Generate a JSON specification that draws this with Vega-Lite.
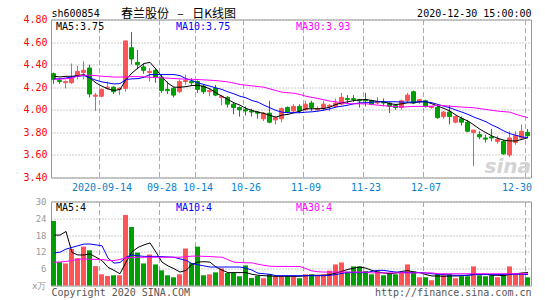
{
 "$schema": "https://vega.github.io/schema/vega-lite/v6.json",
 "background": "white",
 "padding": {"left": 22, "top": 6.5, "right": 8, "bottom": 0},
 "bounds": "flush",
 "spacing": 24,
 "config": {
  "view": {"stroke": "#999999", "strokeWidth": 1},
  "font": "DejaVu Sans Mono",
  "axis": {"labelOverlap": false},
  "axisY": {"labelOverlap": false},
  "axisQuantitative": {"labelOverlap": false}
 },
 "datasets": {
  "k": [
   {"d":"2020-09-02","o":4.32,"h":4.33,"l":4.23,"c":4.27,"v":23.05,"m5":4.297,"m10":4.274,"m30":4.27,"vm5":18,"vm10":11.6,"vm30":8.35},
   {"d":"2020-09-03","o":4.26,"h":4.28,"l":4.23,"c":4.25,"v":8.35,"m5":4.291,"m10":4.274,"m30":4.272,"vm5":18,"vm10":11.9,"vm30":8.4},
   {"d":"2020-09-04","o":4.24,"h":4.26,"l":4.19,"c":4.25,"v":7.88,"m5":4.297,"m10":4.282,"m30":4.275,"vm5":19.3,"vm10":13,"vm30":8.6},
   {"d":"2020-09-07","o":4.24,"h":4.41,"l":4.23,"c":4.28,"v":13.05,"m5":4.297,"m10":4.291,"m30":4.28,"vm5":11.8,"vm10":13.6,"vm30":8.9},
   {"d":"2020-09-08","o":4.30,"h":4.39,"l":4.27,"c":4.34,"v":9.76,"m5":4.303,"m10":4.297,"m30":4.30,"vm5":10.9,"vm10":14.2,"vm30":9.3},
   {"d":"2020-09-09","o":4.33,"h":4.43,"l":4.27,"c":4.35,"v":13.88,"m5":4.312,"m10":4.303,"m30":4.306,"vm5":10.9,"vm10":14.8,"vm30":9.5},
   {"d":"2020-09-10","o":4.37,"h":4.40,"l":4.11,"c":4.14,"v":12.58,"m5":4.282,"m10":4.282,"m30":4.306,"vm5":11.3,"vm10":14.8,"vm30":9.4},
   {"d":"2020-09-11","o":4.12,"h":4.15,"l":3.99,"c":4.13,"v":6.94,"m5":4.238,"m10":4.262,"m30":4.303,"vm5":10.1,"vm10":14.5,"vm30":9.3},
   {"d":"2020-09-14","o":4.12,"h":4.19,"l":4.11,"c":4.18,"v":4.0,"m5":4.209,"m10":4.247,"m30":4.297,"vm5":8.9,"vm10":14.2,"vm30":9.3},
   {"d":"2020-09-15","o":4.19,"h":4.25,"l":4.18,"c":4.20,"v":3.41,"m5":4.185,"m10":4.238,"m30":4.294,"vm5":6.5,"vm10":9.8,"vm30":9.0},
   {"d":"2020-09-16","o":4.20,"h":4.21,"l":4.14,"c":4.16,"v":3.65,"m5":4.171,"m10":4.229,"m30":4.29,"vm5":5.4,"vm10":8.0,"vm30":8.9},
   {"d":"2020-09-17","o":4.18,"h":4.20,"l":4.13,"c":4.19,"v":3.65,"m5":4.18,"m10":4.232,"m30":4.29,"vm5":4.2,"vm10":8.2,"vm30":9.3},
   {"d":"2020-09-18","o":4.19,"h":4.61,"l":4.16,"c":4.61,"v":25.2,"m5":4.268,"m10":4.268,"m30":4.291,"vm5":8.3,"vm10":10.1,"vm30":9.9},
   {"d":"2020-09-21","o":4.55,"h":4.69,"l":4.40,"c":4.45,"v":20.9,"m5":4.326,"m10":4.274,"m30":4.294,"vm5":12,"vm10":10.9,"vm30":10.0},
   {"d":"2020-09-22","o":4.42,"h":4.53,"l":4.36,"c":4.40,"v":11.76,"m5":4.37,"m10":4.276,"m30":4.294,"vm5":13.6,"vm10":10.6,"vm30":10.1},
   {"d":"2020-09-23","o":4.38,"h":4.41,"l":4.32,"c":4.35,"v":7.88,"m5":4.41,"m10":4.288,"m30":4.292,"vm5":14.5,"vm10":10.4,"vm30":10.1},
   {"d":"2020-09-24","o":4.33,"h":4.37,"l":4.25,"c":4.34,"v":11.05,"m5":4.42,"m10":4.312,"m30":4.288,"vm5":15.2,"vm10":10.4,"vm30":10.1},
   {"d":"2020-09-25","o":4.35,"h":4.37,"l":4.24,"c":4.29,"v":7.53,"m5":4.36,"m10":4.312,"m30":4.286,"vm5":11.9,"vm10":10.4,"vm30":10.1},
   {"d":"2020-09-28","o":4.29,"h":4.31,"l":4.15,"c":4.17,"v":5.41,"m5":4.29,"m10":4.312,"m30":4.283,"vm5":8.35,"vm10":10.3,"vm30":10.1},
   {"d":"2020-09-29","o":4.18,"h":4.25,"l":4.14,"c":4.17,"v":3.65,"m5":4.235,"m10":4.312,"m30":4.28,"vm5":7,"vm10":10.2,"vm30":10.1},
   {"d":"2020-09-30","o":4.19,"h":4.20,"l":4.11,"c":4.13,"v":2.94,"m5":4.20,"m10":4.312,"m30":4.277,"vm5":6,"vm10":10.1,"vm30":10.1},
   {"d":"2020-10-09","o":4.16,"h":4.27,"l":4.15,"c":4.25,"v":4.0,"m5":4.20,"m10":4.303,"m30":4.274,"vm5":4.8,"vm10":9.5,"vm30":10.1},
   {"d":"2020-10-12","o":4.25,"h":4.31,"l":4.22,"c":4.26,"v":13.2,"m5":4.205,"m10":4.276,"m30":4.271,"vm5":5.4,"vm10":9.0,"vm30":10.3},
   {"d":"2020-10-13","o":4.25,"h":4.28,"l":4.22,"c":4.24,"v":8.0,"m5":4.215,"m10":4.259,"m30":4.27,"vm5":7.5,"vm10":7.8,"vm30":10.5},
   {"d":"2020-10-14","o":4.25,"h":4.26,"l":4.15,"c":4.18,"v":13.88,"m5":4.218,"m10":4.238,"m30":4.268,"vm5":8.35,"vm10":7.4,"vm30":10.5},
   {"d":"2020-10-15","o":4.21,"h":4.22,"l":4.14,"c":4.16,"v":3.65,"m5":4.205,"m10":4.224,"m30":4.265,"vm5":8.5,"vm10":7.0,"vm30":10.4},
   {"d":"2020-10-16","o":4.16,"h":4.19,"l":4.12,"c":4.17,"v":4.0,"m5":4.185,"m10":4.209,"m30":4.262,"vm5":8.35,"vm10":6.6,"vm30":10.35},
   {"d":"2020-10-19","o":4.19,"h":4.22,"l":4.12,"c":4.13,"v":4.7,"m5":4.15,"m10":4.194,"m30":4.259,"vm5":6.6,"vm10":6.6,"vm30":10.2},
   {"d":"2020-10-20","o":4.11,"h":4.13,"l":4.04,"c":4.12,"v":6.1,"m5":4.12,"m10":4.18,"m30":4.253,"vm5":5.5,"vm10":6.6,"vm30":10.1},
   {"d":"2020-10-21","o":4.11,"h":4.12,"l":4.02,"c":4.05,"v":4.47,"m5":4.091,"m10":4.159,"m30":4.247,"vm5":4.6,"vm10":6.6,"vm30":9.2},
   {"d":"2020-10-22","o":4.05,"h":4.06,"l":3.96,"c":4.02,"v":4.47,"m5":4.062,"m10":4.141,"m30":4.236,"vm5":4.6,"vm10":6.6,"vm30":8.35},
   {"d":"2020-10-23","o":4.02,"h":4.03,"l":3.94,"c":4.00,"v":3.3,"m5":4.041,"m10":4.12,"m30":4.224,"vm5":4.6,"vm10":6.6,"vm30":8.2},
   {"d":"2020-10-26","o":4.00,"h":4.03,"l":3.95,"c":3.99,"v":7.17,"m5":4.012,"m10":4.106,"m30":4.218,"vm5":4.6,"vm10":6.2,"vm30":8.1},
   {"d":"2020-10-27","o":3.99,"h":4.01,"l":3.94,"c":3.98,"v":2.7,"m5":3.994,"m10":4.082,"m30":4.212,"vm5":4.0,"vm10":5.5,"vm30":8.1},
   {"d":"2020-10-28","o":3.98,"h":3.99,"l":3.92,"c":3.97,"v":3.41,"m5":3.979,"m10":4.068,"m30":4.206,"vm5":3.65,"vm10":4.4,"vm30":7.6},
   {"d":"2020-10-29","o":3.92,"h":3.98,"l":3.90,"c":3.97,"v":2.59,"m5":3.968,"m10":4.041,"m30":4.20,"vm5":3.5,"vm10":4.2,"vm30":7.2},
   {"d":"2020-10-30","o":3.97,"h":4.08,"l":3.88,"c":3.89,"v":4.0,"m5":3.95,"m10":4.018,"m30":4.185,"vm5":3.4,"vm10":4.0,"vm30":6.9},
   {"d":"2020-11-02","o":3.91,"h":3.94,"l":3.87,"c":3.93,"v":3.41,"m5":3.935,"m10":3.994,"m30":4.17,"vm5":3.3,"vm10":3.5,"vm30":6.8},
   {"d":"2020-11-03","o":3.92,"h":4.02,"l":3.89,"c":4.01,"v":3.41,"m5":3.953,"m10":3.979,"m30":4.156,"vm5":3.3,"vm10":3.5,"vm30":6.8},
   {"d":"2020-11-04","o":4.02,"h":4.03,"l":3.97,"c":3.98,"v":3.41,"m5":3.959,"m10":3.974,"m30":4.151,"vm5":3.3,"vm10":3.5,"vm30":6.8},
   {"d":"2020-11-05","o":3.99,"h":4.05,"l":3.97,"c":4.03,"v":3.41,"m5":3.974,"m10":3.974,"m30":4.147,"vm5":3.3,"vm10":3.5,"vm30":6.8},
   {"d":"2020-11-06","o":4.03,"h":4.05,"l":3.97,"c":3.99,"v":2.59,"m5":3.988,"m10":3.974,"m30":4.135,"vm5":3.3,"vm10":3.5,"vm30":6.8},
   {"d":"2020-11-09","o":4.00,"h":4.08,"l":3.99,"c":4.05,"v":4.0,"m5":4.009,"m10":3.979,"m30":4.12,"vm5":3.5,"vm10":3.5,"vm30":6.0},
   {"d":"2020-11-10","o":4.06,"h":4.08,"l":3.99,"c":4.02,"v":4.0,"m5":4.009,"m10":3.982,"m30":4.11,"vm5":3.65,"vm10":3.5,"vm30":5.2},
   {"d":"2020-11-11","o":4.00,"h":4.03,"l":3.99,"c":4.01,"v":3.41,"m5":4.009,"m10":3.988,"m30":4.10,"vm5":3.65,"vm10":3.5,"vm30":4.9},
   {"d":"2020-11-12","o":4.01,"h":4.08,"l":3.99,"c":4.05,"v":4.0,"m5":4.012,"m10":3.997,"m30":4.088,"vm5":3.65,"vm10":3.5,"vm30":4.8},
   {"d":"2020-11-13","o":4.03,"h":4.05,"l":3.99,"c":4.04,"v":5.3,"m5":4.024,"m10":4.009,"m30":4.077,"vm5":3.9,"vm10":3.65,"vm30":4.8},
   {"d":"2020-11-16","o":4.03,"h":4.10,"l":4.02,"c":4.06,"v":7.53,"m5":4.047,"m10":4.024,"m30":4.071,"vm5":4.47,"vm10":3.9,"vm30":4.8},
   {"d":"2020-11-17","o":4.05,"h":4.15,"l":4.04,"c":4.11,"v":8.23,"m5":4.062,"m10":4.032,"m30":4.06,"vm5":5.06,"vm10":4.35,"vm30":4.8},
   {"d":"2020-11-18","o":4.10,"h":4.13,"l":4.05,"c":4.09,"v":4.94,"m5":4.071,"m10":4.041,"m30":4.055,"vm5":5.76,"vm10":4.6,"vm30":4.8},
   {"d":"2020-11-19","o":4.10,"h":4.13,"l":4.07,"c":4.09,"v":6.82,"m5":4.082,"m10":4.053,"m30":4.053,"vm5":6.2,"vm10":4.6,"vm30":4.8},
   {"d":"2020-11-20","o":4.09,"h":4.09,"l":4.02,"c":4.08,"v":6.82,"m5":4.088,"m10":4.062,"m30":4.053,"vm5":6.6,"vm10":4.6,"vm30":4.8},
   {"d":"2020-11-23","o":4.09,"h":4.15,"l":4.03,"c":4.08,"v":5.17,"m5":4.091,"m10":4.062,"m30":4.053,"vm5":6.2,"vm10":4.6,"vm30":4.8},
   {"d":"2020-11-24","o":4.08,"h":4.09,"l":4.04,"c":4.05,"v":4.0,"m5":4.082,"m10":4.068,"m30":4.047,"vm5":5.4,"vm10":5.06,"vm30":4.5},
   {"d":"2020-11-25","o":4.06,"h":4.11,"l":4.05,"c":4.07,"v":5.06,"m5":4.074,"m10":4.071,"m30":4.041,"vm5":4.8,"vm10":5.4,"vm30":4.5},
   {"d":"2020-11-26","o":4.07,"h":4.10,"l":4.03,"c":4.06,"v":3.65,"m5":4.071,"m10":4.071,"m30":4.036,"vm5":4.47,"vm10":5.4,"vm30":4.5},
   {"d":"2020-11-27","o":4.06,"h":4.07,"l":3.97,"c":4.03,"v":4.47,"m5":4.053,"m10":4.071,"m30":4.032,"vm5":4.2,"vm10":5.06,"vm30":4.5},
   {"d":"2020-11-30","o":4.04,"h":4.05,"l":4.00,"c":4.02,"v":4.0,"m5":4.047,"m10":4.071,"m30":4.028,"vm5":4.47,"vm10":4.8,"vm30":4.5},
   {"d":"2020-12-01","o":4.02,"h":4.09,"l":4.00,"c":4.08,"v":4.7,"m5":4.053,"m10":4.068,"m30":4.024,"vm5":5.06,"vm10":4.8,"vm30":4.5},
   {"d":"2020-12-02","o":4.08,"h":4.15,"l":4.06,"c":4.13,"v":7.53,"m5":4.062,"m10":4.068,"m30":4.027,"vm5":5.3,"vm10":4.6,"vm30":4.5},
   {"d":"2020-12-03","o":4.16,"h":4.17,"l":4.05,"c":4.06,"v":5.06,"m5":4.062,"m10":4.068,"m30":4.03,"vm5":4.8,"vm10":4.6,"vm30":4.5},
   {"d":"2020-12-04","o":4.07,"h":4.09,"l":4.05,"c":4.09,"v":2.94,"m5":4.071,"m10":4.071,"m30":4.03,"vm5":4.6,"vm10":4.6,"vm30":4.5},
   {"d":"2020-12-07","o":4.08,"h":4.09,"l":4.02,"c":4.03,"v":2.94,"m5":4.071,"m10":4.071,"m30":4.03,"vm5":3.9,"vm10":4.47,"vm30":4.5},
   {"d":"2020-12-08","o":4.02,"h":4.03,"l":4.01,"c":4.03,"v":1.88,"m5":4.053,"m10":4.062,"m30":4.032,"vm5":3.4,"vm10":4.2,"vm30":4.5},
   {"d":"2020-12-09","o":4.02,"h":4.05,"l":3.92,"c":3.93,"v":4.0,"m5":4.032,"m10":4.047,"m30":4.041,"vm5":3.4,"vm10":4.0,"vm30":4.2},
   {"d":"2020-12-10","o":3.94,"h":3.99,"l":3.92,"c":3.98,"v":3.65,"m5":4.012,"m10":4.032,"m30":4.036,"vm5":3.3,"vm10":3.9,"vm30":4.2},
   {"d":"2020-12-11","o":3.98,"h":4.04,"l":3.87,"c":3.94,"v":4.0,"m5":3.988,"m10":4.018,"m30":4.032,"vm5":3.4,"vm10":3.76,"vm30":4.2},
   {"d":"2020-12-14","o":3.89,"h":3.95,"l":3.88,"c":3.94,"v":2.59,"m5":3.953,"m10":3.997,"m30":4.028,"vm5":3.4,"vm10":3.65,"vm30":4.2},
   {"d":"2020-12-15","o":3.92,"h":3.94,"l":3.86,"c":3.89,"v":3.3,"m5":3.924,"m10":3.979,"m30":4.024,"vm5":3.5,"vm10":3.65,"vm30":4.2},
   {"d":"2020-12-16","o":3.89,"h":3.91,"l":3.80,"c":3.81,"v":3.3,"m5":3.90,"m10":3.959,"m30":4.021,"vm5":3.65,"vm10":3.65,"vm30":4.2},
   {"d":"2020-12-17","o":3.80,"h":3.82,"l":3.50,"c":3.82,"v":6.82,"m5":3.865,"m10":3.935,"m30":4.018,"vm5":4.0,"vm10":3.9,"vm30":4.2},
   {"d":"2020-12-18","o":3.78,"h":3.81,"l":3.74,"c":3.76,"v":3.65,"m5":3.827,"m10":3.915,"m30":4.01,"vm5":4.0,"vm10":3.9,"vm30":4.2},
   {"d":"2020-12-21","o":3.75,"h":3.78,"l":3.71,"c":3.74,"v":3.3,"m5":3.797,"m10":3.894,"m30":4.003,"vm5":4.0,"vm10":3.9,"vm30":4.2},
   {"d":"2020-12-22","o":3.76,"h":3.83,"l":3.72,"c":3.75,"v":3.65,"m5":3.768,"m10":3.865,"m30":3.995,"vm5":3.65,"vm10":3.9,"vm30":4.2},
   {"d":"2020-12-23","o":3.72,"h":3.77,"l":3.70,"c":3.74,"v":2.94,"m5":3.747,"m10":3.841,"m30":3.988,"vm5":3.65,"vm10":3.9,"vm30":4.2},
   {"d":"2020-12-24","o":3.72,"h":3.73,"l":3.60,"c":3.61,"v":4.0,"m5":3.73,"m10":3.812,"m30":3.983,"vm5":3.5,"vm10":4.0,"vm30":4.2},
   {"d":"2020-12-25","o":3.60,"h":3.81,"l":3.58,"c":3.75,"v":6.82,"m5":3.724,"m10":3.788,"m30":3.979,"vm5":4.0,"vm10":4.1,"vm30":4.2},
   {"d":"2020-12-28","o":3.71,"h":3.81,"l":3.69,"c":3.77,"v":4.0,"m5":3.724,"m10":3.774,"m30":3.96,"vm5":4.2,"vm10":4.0,"vm30":4.2},
   {"d":"2020-12-29","o":3.75,"h":3.87,"l":3.74,"c":3.81,"v":4.47,"m5":3.738,"m10":3.759,"m30":3.944,"vm5":4.47,"vm10":4.0,"vm30":4.2},
   {"d":"2020-12-30","o":3.80,"h":3.83,"l":3.75,"c":3.77,"v":2.94,"m5":3.753,"m10":3.753,"m30":3.93,"vm5":4.6,"vm10":3.9,"vm30":4.2}
  ],
  "mk": [
   {"d":"2020-09-02","t":"MA5:3.75","k":"m5"},
   {"d":"2020-09-30","t":"MA10:3.75","k":"m10"},
   {"d":"2020-11-05","t":"MA30:3.93","k":"m30"}
  ],
  "mv": [
   {"d":"2020-09-02","t":"MA5:4","k":"m5"},
   {"d":"2020-09-30","t":"MA10:4","k":"m10"},
   {"d":"2020-11-05","t":"MA30:4","k":"m30"}
  ],
  "wm": [
   {"d":"2020-12-30","t":"sina"}
  ]
 },
 "vconcat": [
  {
   "width": 480,
   "height": 158,
   "title": {"text": "春兰股份\u2002\u2009–\u2002\u2009日K线图", "anchor": "start", "dx": 98, "offset": -12, "font": "Noto Sans CJK SC", "fontSize": 12, "fontWeight": "normal", "color": "#000000"},
   "data": {"name": "k"},
   "encoding": {
    "x": {
     "field": "d", "type": "ordinal",
     "scale": {"paddingInner": 0, "paddingOuter": 0},
     "axis": {
      "values": ["2020-09-14","2020-09-28","2020-10-14","2020-10-26","2020-11-09","2020-11-23","2020-12-07","2020-12-30"],
      "labelExpr": "datum.value == '2020-09-14' ? datum.value : substring(datum.value, 5, 10)",
      "bandPosition": 0,
      "labelAngle": 0,
      "labelOverlap": false,
      "labelFont": "DejaVu Sans Mono", "labelFontSize": 10, "labelColor": "#0a7fd0",
      "labelPadding": 5,
      "labelAlign": {"condition": {"test": "datum.value == '2020-12-30'", "value": "right"}, "value": "center"},
      "labelOffset": {"condition": {"test": "datum.value == '2020-12-30'", "value": 4}, "value": 0},
      "ticks": false, "domain": false,
      "grid": true, "gridDash": [5, 3], "gridColor": "#aaaaaa", "gridWidth": 1,
      "title": "2020-12-30 15:00:00",
      "titleX": 480, "titleY": -161, "titleAlign": "right", "titleBaseline": "alphabetic",
      "titleFont": "DejaVu Sans Mono", "titleFontSize": 10, "titleFontWeight": "normal", "titleColor": "#000000"
     }
    },
    "y": {
     "type": "quantitative",
     "scale": {"domain": [3.4, 4.8], "zero": false, "nice": false},
     "axis": {
      "values": [3.4, 3.6, 3.8, 4.0, 4.2, 4.4, 4.6, 4.8],
      "format": ".2f",
      "labelOverlap": false,
      "labelBound": false,
      "labelFont": "DejaVu Sans Mono", "labelFontSize": 10, "labelColor": "#ff0000",
      "labelPadding": 4,
      "ticks": false, "domain": false,
      "grid": true, "gridDash": [1, 2], "gridColor": "#999999",
      "title": "sh600854",
      "titleAngle": 0, "titleX": 0, "titleY": -3, "titleAlign": "left", "titleBaseline": "alphabetic",
      "titleFont": "DejaVu Sans Mono", "titleFontSize": 10, "titleFontWeight": "normal", "titleColor": "#000000"
     }
    }
   },
   "layer": [
    {
     "data": {"name": "wm"},
     "mark": {"type": "text", "align": "right", "baseline": "bottom", "dx": 3, "dy": -1, "font": "DejaVu Sans", "fontSize": 20, "fontStyle": "italic", "fontWeight": "bold", "color": "#d4d4d4"},
     "encoding": {
      "y": {"datum": 3.4},
      "text": {"field": "t"}
     }
    },
    {
     "mark": {"type": "rule", "xOffset": -0.5, "strokeWidth": 1},
     "encoding": {
      "y": {"field": "l"},
      "y2": {"field": "h"},
      "color": {"condition": {"test": "datum.c >= datum.o", "value": "#ff5454"}, "value": "#009f00"}
     }
    },
    {
     "mark": {"type": "bar", "width": 4, "xOffset": -0.5, "strokeWidth": 1},
     "encoding": {
      "y": {"field": "o"},
      "y2": {"field": "c"},
      "fill": {"condition": {"test": "datum.c >= datum.o", "value": "#ff5454"}, "value": "#009f00"},
      "stroke": {"condition": {"test": "datum.c >= datum.o", "value": "#ff5454"}, "value": "#009f00"}
     }
    },
    {
     "mark": {"type": "line", "color": "#000000", "strokeWidth": 1},
     "encoding": {"y": {"field": "m5"}}
    },
    {
     "mark": {"type": "line", "color": "#0000ff", "strokeWidth": 1},
     "encoding": {"y": {"field": "m10"}}
    },
    {
     "mark": {"type": "line", "color": "#ff00ff", "strokeWidth": 1},
     "encoding": {"y": {"field": "m30"}}
    },
    {
     "data": {"name": "mk"},
     "mark": {"type": "text", "align": "left", "baseline": "top", "dx": 2, "dy": 2, "font": "DejaVu Sans Mono", "fontSize": 10},
     "encoding": {
      "y": {"datum": 4.8},
      "text": {"field": "t"},
      "color": {"field": "k", "type": "nominal", "scale": {"domain": ["m5", "m10", "m30"], "range": ["#000000", "#0000ff", "#ff00ff"]}, "legend": null}
     }
    }
   ]
  },
  {
   "width": 480,
   "height": 84,
   "data": {"name": "k"},
   "encoding": {
    "x": {
     "field": "d", "type": "ordinal",
     "scale": {"paddingInner": 0, "paddingOuter": 0},
     "axis": {
      "values": ["2020-09-14","2020-09-28","2020-10-14","2020-10-26","2020-11-09","2020-11-23","2020-12-07","2020-12-30"],
      "bandPosition": 0,
      "labels": false, "ticks": false, "domain": false,
      "grid": true, "gridDash": [5, 3], "gridColor": "#aaaaaa", "gridWidth": 1,
      "title": "Copyright 2020 SINA.COM",
      "titleX": 0, "titleY": 10, "titleAlign": "left", "titleBaseline": "alphabetic",
      "titleFont": "DejaVu Sans Mono", "titleFontSize": 10, "titleFontWeight": "normal", "titleColor": "#555555"
     }
    },
    "y": {
     "type": "quantitative",
     "scale": {"domain": [0, 30], "nice": false},
     "axis": {
      "values": [0, 6, 12, 18, 24, 30],
      "labelExpr": "datum.value == 0 ? 'x万' : datum.label",
      "labelOverlap": false,
      "labelBound": false,
      "labelFont": "DejaVu Sans Mono", "labelFontSize": 9, "labelColor": "#999999",
      "labelPadding": 5,
      "ticks": false, "domain": false,
      "grid": true, "gridDash": [1, 2], "gridColor": "#999999",
      "title": "http://finance.sina.com.cn",
      "titleAngle": 0, "titleX": 480, "titleY": 94, "titleAlign": "right", "titleBaseline": "alphabetic",
      "titleFont": "DejaVu Sans Mono", "titleFontSize": 10, "titleFontWeight": "normal", "titleColor": "#555555"
     }
    }
   },
   "layer": [
    {
     "mark": {"type": "bar", "width": 5, "xOffset": -0.5},
     "encoding": {
      "y": {"field": "v"},
      "color": {"condition": {"test": "datum.c >= datum.o", "value": "#ff5454"}, "value": "#009f00"}
     }
    },
    {
     "mark": {"type": "line", "color": "#000000", "strokeWidth": 1},
     "encoding": {"y": {"field": "vm5"}}
    },
    {
     "mark": {"type": "line", "color": "#0000ff", "strokeWidth": 1},
     "encoding": {"y": {"field": "vm10"}}
    },
    {
     "mark": {"type": "line", "color": "#ff00ff", "strokeWidth": 1},
     "encoding": {"y": {"field": "vm30"}}
    },
    {
     "data": {"name": "mv"},
     "mark": {"type": "text", "align": "left", "baseline": "top", "dx": 2, "dy": 1, "font": "DejaVu Sans Mono", "fontSize": 10},
     "encoding": {
      "y": {"datum": 30},
      "text": {"field": "t"},
      "color": {"field": "k", "type": "nominal", "scale": {"domain": ["m5", "m10", "m30"], "range": ["#000000", "#0000ff", "#ff00ff"]}, "legend": null}
     }
    }
   ]
  }
 ]
}
